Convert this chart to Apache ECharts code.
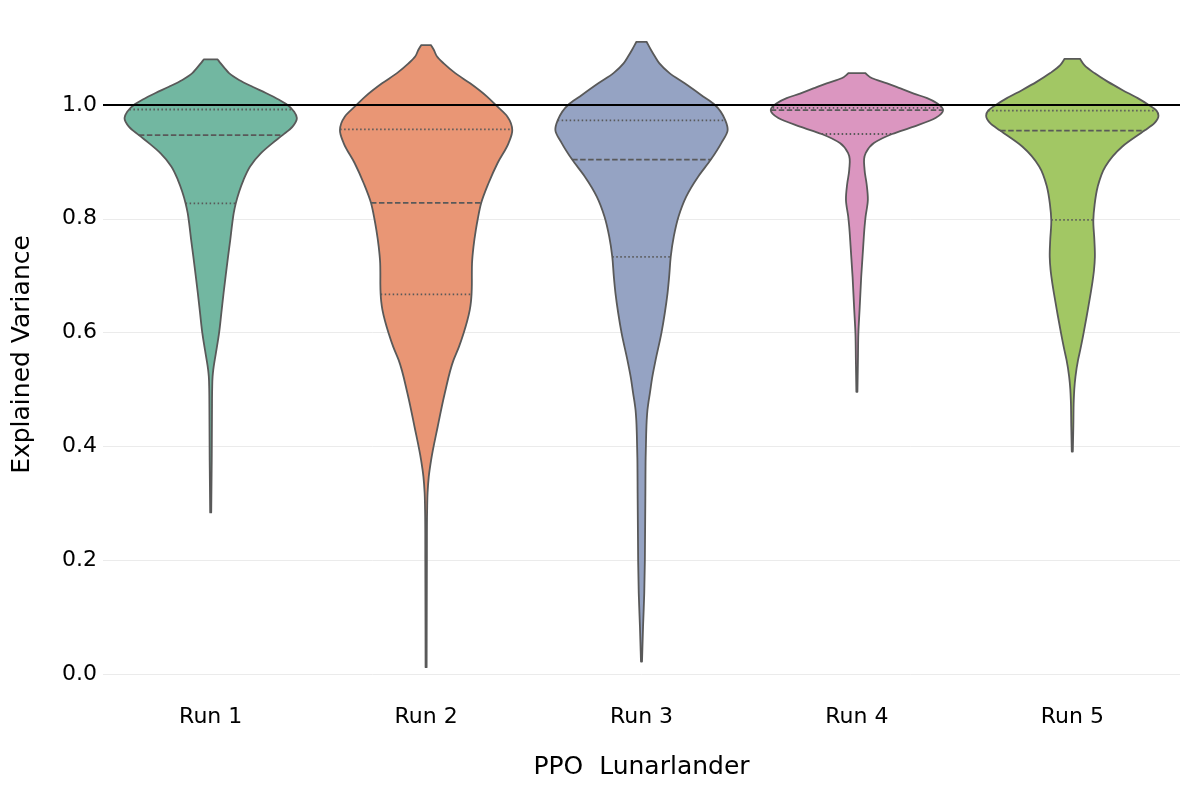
<!DOCTYPE html>
<html><head><meta charset="utf-8">
<script src="https://cdn.jsdelivr.net/npm/echarts@6/dist/echarts.min.js"></script>
<style>html,body{margin:0;padding:0;background:#fff}#c{width:1189px;height:790px}</style>
</head><body><div id="c"></div>
<script>
const categories = ['Run 1', 'Run 2', 'Run 3', 'Run 4', 'Run 5'];
const colors = ['#72b7a1', '#e99675', '#95a3c3', '#db96c0', '#a2c764'];
const yTicks = [0, 0.2, 0.4, 0.6, 0.8, 1.0];
const refLine = 1.0;

// violin outlines: value levels (top to bottom) and relative half-width (1 = widest)
const run1Levels  = [1.080,1.073,1.064,1.056,1.044,1.032,1.021,1.009,1.000,0.988,0.977,0.962,0.947,0.933,0.915,0.892,0.868,0.848,0.827,0.810,0.792,0.763,0.733,0.700,0.670,0.635,0.599,0.570,0.552,0.535,0.523,0.500,0.464,0.376,0.284];
const run1Density = [0.081,0.116,0.166,0.213,0.329,0.485,0.640,0.794,0.892,0.969,1.000,0.950,0.834,0.717,0.581,0.457,0.380,0.331,0.291,0.267,0.250,0.227,0.201,0.174,0.150,0.124,0.097,0.067,0.047,0.030,0.022,0.017,0.015,0.012,0.006];

const run2Levels  = [1.105,1.097,1.085,1.073,1.056,1.038,1.015,1.000,0.979,0.956,0.933,0.898,0.862,0.828,0.800,0.780,0.751,0.722,0.700,0.685,0.669,0.655,0.640,0.620,0.599,0.575,0.552,0.493,0.435,0.376,0.347,0.318,0.288,0.200,0.012];
const run2Density = [0.058,0.089,0.127,0.204,0.338,0.511,0.704,0.807,0.946,1.000,0.957,0.830,0.723,0.640,0.600,0.577,0.550,0.533,0.531,0.531,0.528,0.521,0.507,0.476,0.435,0.381,0.319,0.216,0.135,0.058,0.031,0.017,0.012,0.009,0.006];

const run3Levels  = [1.111,1.097,1.085,1.073,1.056,1.038,1.015,1.000,0.973,0.956,0.933,0.904,0.874,0.839,0.804,0.769,0.733,0.700,0.669,0.634,0.599,0.552,0.520,0.493,0.478,0.464,0.445,0.420,0.380,0.318,0.200,0.142,0.083,0.022];
const run3Density = [0.059,0.109,0.156,0.208,0.325,0.501,0.715,0.852,0.973,1.000,0.926,0.805,0.657,0.519,0.430,0.375,0.339,0.322,0.302,0.270,0.231,0.164,0.123,0.097,0.081,0.069,0.060,0.054,0.048,0.045,0.039,0.032,0.018,0.006];

const run4Levels  = [1.056,1.047,1.038,1.029,1.020,1.012,1.003,0.991,0.977,0.962,0.949,0.933,0.915,0.886,0.862,0.833,0.804,0.786,0.751,0.698,0.640,0.599,0.552,0.496];
const run4Density = [0.096,0.177,0.351,0.506,0.660,0.815,0.930,1.000,0.912,0.660,0.409,0.197,0.101,0.089,0.112,0.127,0.101,0.089,0.073,0.050,0.031,0.017,0.012,0.006];

const run5Levels  = [1.081,1.070,1.056,1.041,1.026,1.012,1.000,0.990,0.981,0.968,0.955,0.927,0.892,0.856,0.825,0.798,0.763,0.733,0.710,0.690,0.669,0.640,0.599,0.570,0.552,0.523,0.500,0.481,0.435,0.391];
const run5Density = [0.090,0.140,0.256,0.410,0.585,0.759,0.887,0.977,1.000,0.953,0.837,0.581,0.384,0.294,0.259,0.244,0.256,0.262,0.252,0.235,0.213,0.180,0.131,0.093,0.067,0.037,0.023,0.017,0.012,0.006];

// quartiles per run
const q1Values     = [0.827, 0.667, 0.733, 0.949, 0.798];
const medianValues = [0.947, 0.828, 0.904, 0.991, 0.955];
const q3Values     = [0.992, 0.957, 0.973, 0.995, 0.990];

const levels = [run1Levels, run2Levels, run3Levels, run4Levels, run5Levels];
const densities = [run1Density, run2Density, run3Density, run4Density, run5Density];

const EDGE = '#595959';

function densityAt(lv, dn, v) {
  for (let k = 0; k < lv.length - 1; k++) {
    if (v <= lv[k] && v >= lv[k + 1]) {
      const t = (lv[k] - v) / (lv[k] - lv[k + 1]);
      return dn[k] + t * (dn[k + 1] - dn[k]);
    }
  }
  return 0;
}

// cubic Hermite curve x(y) through the outline points (non-uniform spacing), as bezier commands
function hermiteSegments(pts) {
  const n = pts.length;
  const h = [], dd = [], m = [];
  for (let k = 0; k < n - 1; k++) {
    h.push(pts[k + 1][1] - pts[k][1]);
    dd.push((pts[k + 1][0] - pts[k][0]) / h[k]);
  }
  m[0] = dd[0];
  m[n - 1] = dd[n - 2];
  for (let k = 1; k < n - 1; k++) {
    m[k] = (h[k] * dd[k - 1] + h[k - 1] * dd[k]) / (h[k - 1] + h[k]);
  }
  let s = '';
  for (let k = 0; k < n - 1; k++) {
    const p1 = pts[k], p2 = pts[k + 1], t = h[k] / 3;
    const c1x = p1[0] + m[k] * t, c1y = p1[1] + t;
    const c2x = p2[0] - m[k + 1] * t, c2y = p2[1] - t;
    s += ' C' + c1x.toFixed(2) + ' ' + c1y.toFixed(2) + ' ' + c2x.toFixed(2) + ' ' + c2y.toFixed(2) + ' ' + p2[0].toFixed(2) + ' ' + p2[1].toFixed(2);
  }
  return s;
}

function renderItem(params, api) {
  const i = api.value(0);
  const lv = levels[i], dn = densities[i];
  const band = api.size([1, 0])[0];
  const maxHW = band * 0.4;
  const left = [], right = [];
  for (let k = 0; k < lv.length; k++) {
    const p = api.coord([i, lv[k]]);
    const hw = dn[k] * maxHW;
    left.push([p[0] - hw, p[1]]);
    right.push([p[0] + hw, p[1]]);
  }
  const rightRev = right.slice().reverse();
  let d = 'M' + left[0][0].toFixed(2) + ' ' + left[0][1].toFixed(2) + hermiteSegments(left);
  d += ' L' + rightRev[0][0].toFixed(2) + ' ' + rightRev[0][1].toFixed(2) + hermiteSegments(rightRev) + ' Z';
  const children = [{
    type: 'path',
    shape: { pathData: d },
    style: { fill: colors[i], stroke: EDGE, lineWidth: 1.8, lineJoin: 'round' }
  }];
  const qs = [[q1Values[i], [1.5, 2.5]], [medianValues[i], [5.5, 2.5]], [q3Values[i], [1.5, 2.5]]];
  qs.forEach(function (q) {
    const p = api.coord([i, q[0]]);
    const hw = densityAt(lv, dn, q[0]) * maxHW;
    children.push({
      type: 'line',
      shape: { x1: p[0] - hw, y1: p[1], x2: p[0] + hw, y2: p[1] },
      style: { stroke: EDGE, lineWidth: 1.8, lineDash: q[1] }
    });
  });
  return { type: 'group', children: children };
}

const chart = echarts.init(document.getElementById('c'), null, { renderer: 'canvas' });
chart.setOption({
  animation: false,
  backgroundColor: '#ffffff',
  grid: { left: 103, right: 9, top: 10.5, bottom: 91.5, containLabel: false },
  xAxis: {
    type: 'category',
    data: categories,
    boundaryGap: true,
    axisLine: { show: false },
    axisTick: { show: false },
    splitLine: { show: false },
    axisLabel: { fontSize: 22, color: '#000', margin: 8, fontFamily: 'DejaVu Sans' },
    name: 'PPO  Lunarlander',
    nameLocation: 'middle',
    nameGap: 56,
    nameTextStyle: { fontSize: 25, color: '#000', fontFamily: 'DejaVu Sans' }
  },
  yAxis: {
    type: 'value',
    min: -0.043,
    max: 1.166,
    axisLine: { show: false },
    axisTick: { show: false },
    splitLine: { show: false },
    axisLabel: {
      customValues: yTicks,
      fontSize: 22, color: '#000', margin: 6, fontFamily: 'DejaVu Sans',
      formatter: function (v) {
        if (Math.abs(v * 5 - Math.round(v * 5)) > 1e-6) return '';
        return v.toFixed(1);
      }
    },
    name: 'Explained Variance',
    nameLocation: 'middle',
    nameGap: 68,
    nameTextStyle: { fontSize: 25, color: '#000', fontFamily: 'DejaVu Sans' }
  },
  series: [
    {
      type: 'line', data: [], z: 0, silent: true,
      markLine: {
        z: 0, silent: true, symbol: 'none', label: { show: false }, animation: false,
        lineStyle: { color: '#ebebeb', width: 1, type: 'solid' },
        data: yTicks.filter(function (v) { return v !== refLine; }).map(function (v) { return { yAxis: v }; })
      }
    },
    {
      type: 'custom', z: 2, silent: true,
      renderItem: renderItem,
      encode: { x: 0 },
      data: categories.map(function (c, i) { return [i]; })
    },
    {
      type: 'line', data: [], z: 5, silent: true,
      markLine: {
        z: 10, silent: true, symbol: 'none', label: { show: false }, animation: false,
        lineStyle: { color: '#000000', width: 1.8, type: 'solid' },
        data: [{ yAxis: refLine }]
      }
    }
  ]
});
</script>
</body></html>
